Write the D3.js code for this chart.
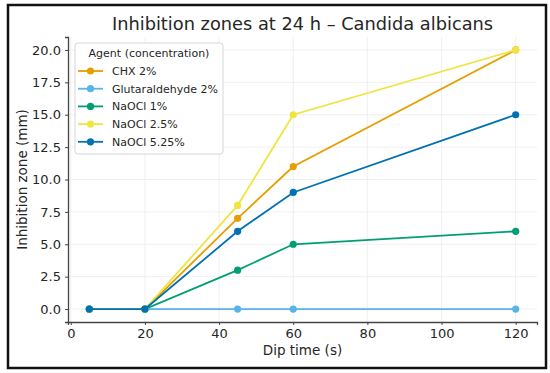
<!DOCTYPE html>
<html>
<head>
<meta charset="utf-8">
<script src="https://cdn.jsdelivr.net/npm/d3@7"></script>
<style>
  body { margin: 0; background: #fff; }
  svg text { font-family: "DejaVu Sans", sans-serif; fill: #262626; }
</style>
</head>
<body>
<div id="chart"></div>
<script>
const dipTimes = [5, 20, 45, 60, 120]
const agents = ["CHX 2%", "Glutaraldehyde 2%", "NaOCl 1%", "NaOCl 2.5%", "NaOCl 5.25%"]
const zones = [
    [0, 0, 7, 11, 20],
    [0, 0, 0, 0, 0],
    [0, 0, 3, 5, 6],
    [0, 0, 8, 15, 20],
    [0, 0, 6, 9, 15]
]
const colors = ["#E69F00", "#56B4E9", "#009E73", "#F0E442", "#0072B2"]
const xTicks = [0, 20, 40, 60, 80, 100, 120]
const yTicks = [0, 2.5, 5, 7.5, 10, 12.5, 15, 17.5, 20]

const width = 550
const height = 373
const plot = { left: 68, right: 537, top: 37, bottom: 322 }

const svg = d3.select("#chart").append("svg")
    .attr("width", width)
    .attr("height", height)

svg.append("rect")
    .attr("x", 8).attr("y", 5)
    .attr("width", 538).attr("height", 363)
    .style("fill", "#fff")
    .style("stroke", "#111")
    .style("stroke-width", 2.5)

const x = d3.scaleLinear().domain([-0.75, 125.75]).range([plot.left, plot.right])
const y = d3.scaleLinear().domain([-1, 21]).range([plot.bottom, plot.top])

// grid
svg.append("g").selectAll("line")
    .data(xTicks)
    .enter().append("line")
    .attr("x1", d => x(d)).attr("x2", d => x(d))
    .attr("y1", plot.top).attr("y2", plot.bottom)
    .style("stroke", "#ececec").style("stroke-width", 0.8)
svg.append("g").selectAll("line")
    .data(yTicks)
    .enter().append("line")
    .attr("x1", plot.left).attr("x2", plot.right)
    .attr("y1", d => y(d)).attr("y2", d => y(d))
    .style("stroke", "#ececec").style("stroke-width", 0.8)

// axes
const xAxis = svg.append("g")
    .attr("transform", `translate(0,${plot.bottom})`)
    .call(d3.axisBottom(x).tickValues(xTicks).tickSize(3).tickPadding(4).tickFormat(d3.format("d")))
const yAxis = svg.append("g")
    .attr("transform", `translate(${plot.left},0)`)
    .call(d3.axisLeft(y).tickValues(yTicks).tickSize(3).tickPadding(4).tickFormat(d => d.toFixed(1)))
for (const ax of [xAxis, yAxis]) {
    ax.select(".domain").style("stroke", "#444").style("stroke-width", 1.3)
    ax.selectAll(".tick line").style("stroke", "#444")
    ax.selectAll(".tick text").style("font-size", "13px").style("fill", "#262626")
}

svg.append("text")
    .text("Inhibition zones at 24 h – Candida albicans")
    .attr("x", (plot.left + plot.right) / 2)
    .attr("y", 30)
    .attr("text-anchor", "middle")
    .style("font-size", "17.8px")
svg.append("text")
    .text("Dip time (s)")
    .attr("x", (plot.left + plot.right) / 2)
    .attr("y", 355)
    .attr("text-anchor", "middle")
    .style("font-size", "13.5px")
svg.append("text")
    .text("Inhibition zone (mm)")
    .attr("transform", `translate(27,${(plot.top + plot.bottom) / 2}) rotate(-90)`)
    .attr("text-anchor", "middle")
    .style("font-size", "13.5px")

// series
const line = d3.line().x((d, i) => x(dipTimes[i])).y(d => y(d))
zones.forEach((series, k) => {
    svg.append("path")
        .datum(series)
        .attr("d", line)
        .style("fill", "none")
        .style("stroke", colors[k])
        .style("stroke-width", 1.8)
    svg.append("g").selectAll("circle")
        .data(series)
        .enter().append("circle")
        .attr("cx", (d, i) => x(dipTimes[i]))
        .attr("cy", d => y(d))
        .attr("r", 3.6)
        .style("fill", colors[k])
})

// legend
const legend = svg.append("g").attr("transform", "translate(75,43)")
legend.append("rect")
    .attr("width", 148).attr("height", 111)
    .attr("rx", 3)
    .style("fill", "rgba(255,255,255,0.85)")
    .style("stroke", "#d6d6d6")
legend.append("text")
    .text("Agent (concentration)")
    .attr("x", 74).attr("y", 14)
    .attr("text-anchor", "middle")
    .style("font-size", "11px")
agents.forEach((name, k) => {
    const ly = 28 + k * 17.7
    legend.append("line")
        .attr("x1", 3).attr("x2", 28)
        .attr("y1", ly).attr("y2", ly)
        .style("stroke", colors[k]).style("stroke-width", 1.8)
    legend.append("circle")
        .attr("cx", 15.5).attr("cy", ly).attr("r", 3.6)
        .style("fill", colors[k])
    legend.append("text")
        .text(name)
        .attr("x", 37).attr("y", ly + 4)
        .style("font-size", "11px")
})
</script>
</body>
</html>
